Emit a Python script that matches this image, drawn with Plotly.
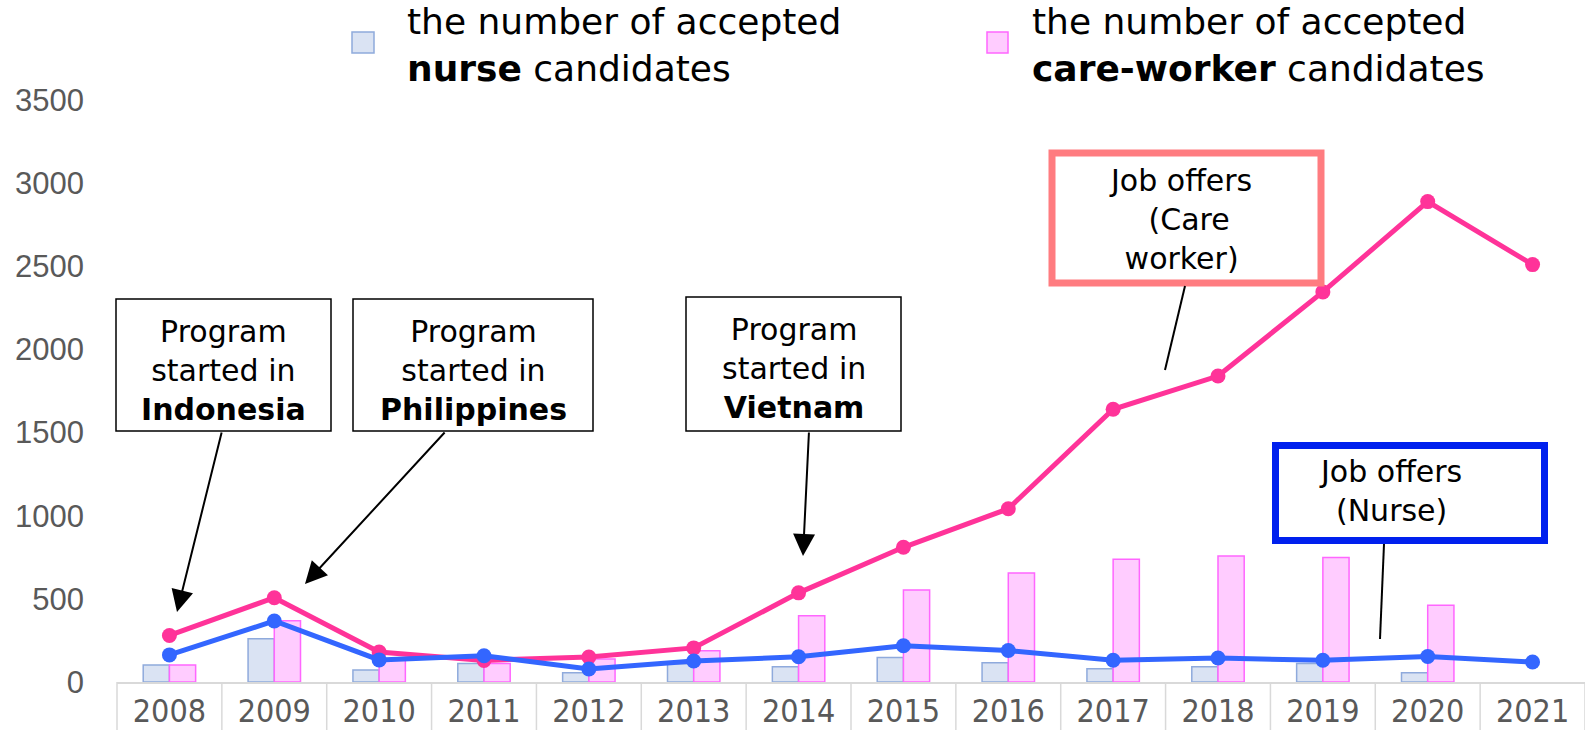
import plotly.graph_objects as go

years = ["2008", "2009", "2010", "2011", "2012", "2013", "2014",
         "2015", "2016", "2017", "2018", "2019", "2020", "2021"]
nurse_accepted = [102, 260, 72, 112, 55, 110, 92, 148, 116, 80, 92, 112, 55, None]
care_accepted = [102, 368, 140, 112, 138, 188, 398, 553, 656, 738, 758, 748, 462, None]
care_job_offers = [280, 507, 180, 130, 150, 205, 536, 810, 1042, 1640, 1840, 2346, 2889, 2510]
nurse_job_offers = [163, 367, 133, 158, 78, 126, 152, 218, 189, 131, 144, 131, 153, 120]
y_ticks = [0, 500, 1000, 1500, 2000, 2500, 3000, 3500]

W, H = 1585, 730
L, R, T, B = 117, 0, 100, 48
PW, PH = W - L - R, H - T - B


def px(x):
    return (x - L) / PW


def py(y):
    return (H - B - y) / PH


fig = go.Figure()
fig.add_trace(go.Bar(x=years, y=nurse_accepted, name="nurse",
                     marker=dict(color="#DAE3F3", line=dict(color="#8FAADC", width=1.5)),
                     showlegend=False))
fig.add_trace(go.Bar(x=years, y=care_accepted, name="care",
                     marker=dict(color="#FFCCFF", line=dict(color="#FF66FF", width=1.5)),
                     showlegend=False))
fig.add_trace(go.Scatter(x=years, y=care_job_offers, mode="lines+markers",
                         line=dict(color="#FF3399", width=5),
                         marker=dict(color="#FF3399", size=15),
                         showlegend=False, cliponaxis=False))
fig.add_trace(go.Scatter(x=years, y=nurse_job_offers, mode="lines+markers",
                         line=dict(color="#3366FF", width=5),
                         marker=dict(color="#3366FF", size=15),
                         showlegend=False, cliponaxis=False))

shapes = []
annotations = []
n = len(years)
# category separators below the axis
for k in range(n + 1):
    shapes.append(dict(type="line", xref="paper", yref="paper",
                       x0=k / n, x1=k / n, y0=0, y1=-B / PH,
                       line=dict(color="#D9D9D9", width=1.5)))

# manual legend
legend_items = [
    (352, 374, "#DAE3F3", "#8FAADC", 405,
     "the number of accepted<br><b>nurse</b> candidates"),
    (987, 1008, "#FFCCFF", "#FF66FF", 1030,
     "the number of accepted<br><b>care-worker</b> candidates"),
]
for x0, x1, fill, edge, tx, txt in legend_items:
    shapes.append(dict(type="rect", xref="paper", yref="paper",
                       x0=px(x0), x1=px(x1), y0=py(53), y1=py(32),
                       fillcolor=fill, line=dict(color=edge, width=1.5)))
    annotations.append(dict(xref="paper", yref="paper", x=px(tx), y=py(45),
                            xanchor="left", yanchor="middle", align="left",
                            text=txt, showarrow=False,
                            font=dict(family="DejaVu Sans", size=36, color="#000000")))

box_font = dict(family="DejaVu Sans", size=30, color="#000000")
# program start boxes
boxes = [
    (116, 331, 299, 431, 223.5, 370, "Program<br>started in<br><b>Indonesia</b>"),
    (353, 593, 299, 431, 473, 370, "Program<br>started in<br><b>Philippines</b>"),
    (686, 901, 297, 431, 793.5, 368, "Program<br>started in<br><b>Vietnam</b>"),
]
for x0, x1, y0, y1, cx, cy, txt in boxes:
    shapes.append(dict(type="rect", xref="paper", yref="paper",
                       x0=px(x0), x1=px(x1), y0=py(y1), y1=py(y0),
                       fillcolor="white", line=dict(color="black", width=1.5)))
    annotations.append(dict(xref="paper", yref="paper", x=px(cx), y=py(cy),
                            xanchor="center", yanchor="middle", align="center",
                            text=txt, showarrow=False, font=box_font))

# job offer boxes
shapes.append(dict(type="rect", xref="paper", yref="paper",
                   x0=px(1052), x1=px(1321), y0=py(283), y1=py(153),
                   fillcolor="white", line=dict(color="#FF7C80", width=7)))
annotations.append(dict(xref="paper", yref="paper", x=px(1180), y=py(219),
                        xanchor="center", yanchor="middle", align="center",
                        text="Job offers<br>\u2002(Care<br>worker)", showarrow=False,
                        font=box_font))
shapes.append(dict(type="rect", xref="paper", yref="paper",
                   x0=px(1275.5), x1=px(1544.5), y0=py(540.5), y1=py(445.5),
                   fillcolor="white", line=dict(color="#0020EE", width=7)))
annotations.append(dict(xref="paper", yref="paper", x=px(1390), y=py(491),
                        xanchor="center", yanchor="middle", align="center",
                        text="Job offers<br>(Nurse)", showarrow=False,
                        font=box_font))

# leader lines
shapes.append(dict(type="line", xref="paper", yref="paper",
                   x0=px(1185), y0=py(286), x1=px(1165), y1=py(370),
                   line=dict(color="black", width=2)))
shapes.append(dict(type="line", xref="paper", yref="paper",
                   x0=px(1384), y0=py(544), x1=px(1380), y1=py(639),
                   line=dict(color="black", width=2)))

# arrows
arrows = [((222, 431), (177, 612)), ((446, 431), (305, 584)), ((809, 431), (803, 556))]
for (tx, ty), (hx, hy) in arrows:
    annotations.append(dict(xref="paper", yref="paper", x=px(hx), y=py(hy),
                            ax=tx - hx, ay=ty - hy, axref="pixel", ayref="pixel",
                            text="", showarrow=True, arrowhead=2, arrowsize=2.2,
                            arrowwidth=2, arrowcolor="black", standoff=0))

fig.update_layout(
    width=W, height=H,
    margin=dict(l=L, r=R, t=T, b=B, pad=0, autoexpand=False),
    paper_bgcolor="white", plot_bgcolor="white",
    barmode="group", bargap=0.5, bargroupgap=0,
    showlegend=False,
    shapes=shapes, annotations=annotations,
    xaxis=dict(type="category", range=[-0.5, n - 0.5],
               showgrid=False, zeroline=False, automargin=False,
               showline=True, linecolor="#D9D9D9", linewidth=1.5,
               ticks="", ticklabelstandoff=0,
               tickfont=dict(family="Liberation Sans Narrow, DejaVu Sans Condensed, Liberation Sans",
                             size=32, color="#595959")),
    yaxis=dict(range=[0, 3500], tickvals=y_ticks, showgrid=False, zeroline=False,
               automargin=False,
               showline=False, ticks="", ticklabelstandoff=32,
               tickfont=dict(family="Liberation Sans", size=31, color="#595959")),
)

fig.write_html("out.html", config={"displayModeBar": False},
               post_script="document.body.style.margin='0';document.body.style.overflow='hidden';")
